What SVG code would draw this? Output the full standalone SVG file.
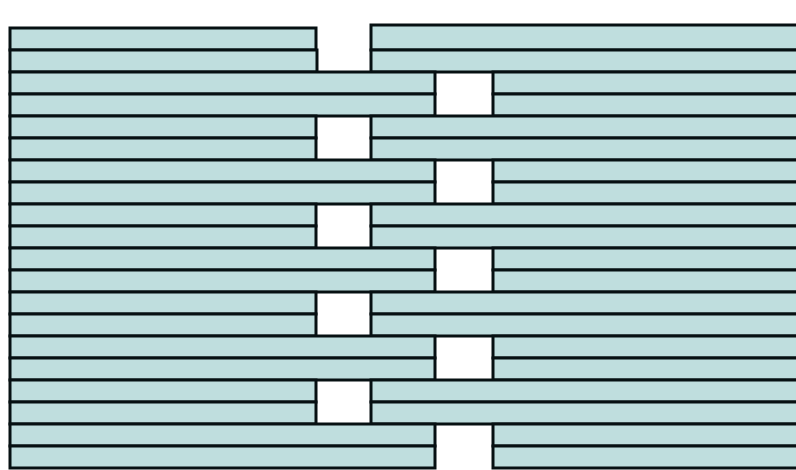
<svg xmlns="http://www.w3.org/2000/svg" width="796" height="470" viewBox="0 0 796 470">
<style>
.b{fill:#bfdede;stroke:#061012;stroke-width:3}
</style>
<rect width="796" height="470" fill="#ffffff"/>
<g id="wall">
<!-- pair 0 -->
<rect class="b" x="10" y="28" width="306" height="22"/>
<rect class="b" x="10" y="50" width="307" height="22"/>
<rect class="b" x="371" y="25" width="430" height="25"/>
<rect class="b" x="371" y="50" width="430" height="22"/>
<!-- pair 1 -->
<rect class="b" x="10" y="72" width="425" height="22"/>
<rect class="b" x="10" y="94" width="425" height="22"/>
<rect class="b" x="493" y="72" width="308" height="22"/>
<rect class="b" x="493" y="94" width="308" height="22"/>
<!-- pair 2 -->
<rect class="b" x="10" y="116" width="306" height="22"/>
<rect class="b" x="10" y="138" width="306" height="22"/>
<rect class="b" x="371" y="116" width="430" height="22"/>
<rect class="b" x="371" y="138" width="430" height="22"/>
<!-- pair 3 -->
<rect class="b" x="10" y="160" width="425" height="22"/>
<rect class="b" x="10" y="182" width="425" height="22"/>
<rect class="b" x="493" y="160" width="308" height="22"/>
<rect class="b" x="493" y="182" width="308" height="22"/>
<!-- pair 4 -->
<rect class="b" x="10" y="204" width="306" height="22"/>
<rect class="b" x="10" y="226" width="306" height="22"/>
<rect class="b" x="371" y="204" width="430" height="22"/>
<rect class="b" x="371" y="226" width="430" height="22"/>
<!-- pair 5 -->
<rect class="b" x="10" y="248" width="425" height="22"/>
<rect class="b" x="10" y="270" width="425" height="22"/>
<rect class="b" x="493" y="248" width="308" height="22"/>
<rect class="b" x="493" y="270" width="308" height="22"/>
<!-- pair 6 -->
<rect class="b" x="10" y="292" width="306" height="22"/>
<rect class="b" x="10" y="314" width="306" height="22"/>
<rect class="b" x="371" y="292" width="430" height="22"/>
<rect class="b" x="371" y="314" width="430" height="22"/>
<!-- pair 7 -->
<rect class="b" x="10" y="336" width="425" height="22"/>
<rect class="b" x="10" y="358" width="425" height="22"/>
<rect class="b" x="493" y="336" width="308" height="22"/>
<rect class="b" x="493" y="358" width="308" height="22"/>
<!-- pair 8 -->
<rect class="b" x="10" y="380" width="306" height="22"/>
<rect class="b" x="10" y="402" width="306" height="22"/>
<rect class="b" x="371" y="380" width="430" height="22"/>
<rect class="b" x="371" y="402" width="430" height="22"/>
<!-- pair 9 -->
<rect class="b" x="10" y="424" width="425" height="22"/>
<rect class="b" x="10" y="446" width="425" height="22"/>
<rect class="b" x="493" y="424" width="308" height="22"/>
<rect class="b" x="493" y="446" width="308" height="22"/>
</g>
</svg>
